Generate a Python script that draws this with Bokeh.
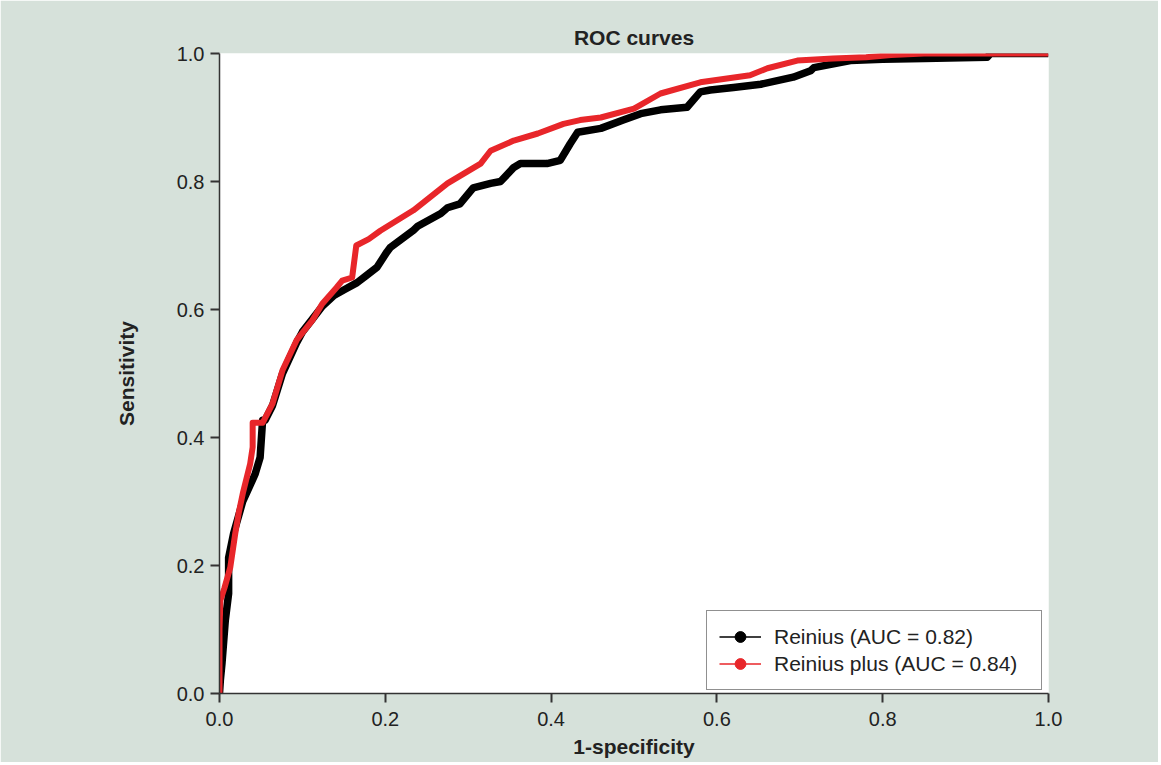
from bokeh.plotting import figure
from bokeh.models import ColumnDataSource, Legend, LegendItem, FixedTicker
from bokeh.embed import file_html
from bokeh.resources import INLINE

# Reinius (AUC = 0.82) -- black
reinius_fpr = [0.0, 0.001, 0.003, 0.007, 0.011, 0.011, 0.017, 0.028, 0.043, 0.049, 0.052,
               0.055, 0.064, 0.076, 0.093, 0.100, 0.112, 0.124, 0.138, 0.152, 0.166, 0.176,
               0.19, 0.202, 0.206, 0.234, 0.239, 0.267, 0.275, 0.29, 0.306, 0.327, 0.339,
               0.355, 0.363, 0.395, 0.411, 0.423, 0.432, 0.46, 0.487, 0.508, 0.532, 0.564,
               0.58, 0.592, 0.62, 0.653, 0.692, 0.713, 0.717, 0.761, 0.80, 0.85, 0.926, 0.93, 1.0]
reinius_tpr = [0.0, 0.02, 0.047, 0.114, 0.156, 0.212, 0.25, 0.30, 0.343, 0.369, 0.427,
               0.427, 0.45, 0.50, 0.548, 0.565, 0.585, 0.605, 0.622, 0.632, 0.642, 0.652,
               0.666, 0.69, 0.697, 0.724, 0.73, 0.75, 0.759, 0.765, 0.79, 0.797, 0.80,
               0.822, 0.828, 0.828, 0.833, 0.859, 0.877, 0.883, 0.896, 0.906, 0.912, 0.916,
               0.94, 0.943, 0.947, 0.952, 0.963, 0.973, 0.978, 0.989, 0.991, 0.992, 0.994, 1.0, 1.0]

# Reinius plus (AUC = 0.84) -- red
plus_fpr = [0.0, 0.0, 0.001, 0.006, 0.013, 0.019, 0.023, 0.028, 0.037, 0.04, 0.04, 0.052,
            0.064, 0.076, 0.093, 0.112, 0.124, 0.141, 0.148, 0.16, 0.165, 0.18, 0.194,
            0.234, 0.275, 0.315, 0.327, 0.355, 0.384, 0.415, 0.435, 0.46, 0.50, 0.532,
            0.58, 0.64, 0.661, 0.697, 0.74, 0.78, 0.81, 0.85, 1.0]
plus_tpr = [0.0, 0.10, 0.145, 0.165, 0.197, 0.25, 0.281, 0.312, 0.359, 0.385, 0.423, 0.423,
            0.453, 0.505, 0.552, 0.583, 0.609, 0.634, 0.645, 0.65, 0.70, 0.71, 0.723,
            0.755, 0.797, 0.828, 0.848, 0.864, 0.875, 0.89, 0.896, 0.90, 0.914, 0.9375,
            0.955, 0.966, 0.977, 0.989, 0.992, 0.994, 0.9975, 1.0, 1.0]

series_labels = ["Reinius (AUC = 0.82)", "Reinius plus (AUC = 0.84)"]
ticks = [0.0, 0.2, 0.4, 0.6, 0.8, 1.0]
tick_labels = ["0.0", "0.2", "0.4", "0.6", "0.8", "1.0"]

BG = "#d6e1da"
BLACK = "#000000"
RED = "#e8262a"
FONT = "Liberation Sans"

p = figure(width=1158, height=762, x_range=(0, 1), y_range=(0, 1),
           output_backend="svg", toolbar_location=None,
           min_border_left=219, min_border_right=110, min_border_top=53, min_border_bottom=69,
           border_fill_color=BG, background_fill_color="white", outline_line_color=None)

p.title.text = "ROC curves"
p.title.align = "center"
p.title.text_font = FONT
p.title.text_font_size = "21px"
p.title.text_font_style = "bold"
p.title.text_color = "#222222"

p.grid.visible = False

for ax, lab, standoff, lstand in ((p.xaxis[0], "1-specificity", 6, 9),
                                  (p.yaxis[0], "Sensitivity", 36, 6)):
    ax.ticker = FixedTicker(ticks=ticks)
    ax.major_label_overrides = {t: l for t, l in zip(ticks, tick_labels)}
    ax.axis_label = lab
    ax.axis_label_text_font = FONT
    ax.axis_label_text_font_size = "21px"
    ax.axis_label_text_font_style = "bold"
    ax.axis_label_text_color = "#222222"
    ax.axis_label_standoff = standoff
    ax.major_label_text_font = FONT
    ax.major_label_text_font_size = "20px"
    ax.major_label_text_color = "#222222"
    ax.axis_line_color = "#333333"
    ax.axis_line_width = 1.5
    ax.major_tick_line_color = "#333333"
    ax.major_tick_line_width = 2
    ax.major_tick_out = 9
    ax.major_tick_in = 0
    ax.minor_tick_line_color = None
    ax.major_label_standoff = lstand

src_r = ColumnDataSource(dict(x=reinius_fpr, y=reinius_tpr))
src_p = ColumnDataSource(dict(x=plus_fpr, y=plus_tpr))
p.line("x", "y", source=src_r, line_color=BLACK, line_width=7.5, line_join="round")
p.line("x", "y", source=src_p, line_color=RED, line_width=6, line_join="round")

# legend-only glyphs (thin line + dot), placed outside the visible range
off = dict(x=[-5, -4], y=[-5, -4])
l1 = p.line(x=off["x"], y=off["y"], line_color=BLACK, line_width=1.5)
c1 = p.scatter(x=off["x"], y=off["y"], marker="circle", size=9, fill_color=BLACK, line_color=BLACK)
l2 = p.line(x=off["x"], y=off["y"], line_color=RED, line_width=1.5)
c2 = p.scatter(x=off["x"], y=off["y"], marker="circle", size=9, fill_color=RED, line_color=RED)

legend = Legend(items=[LegendItem(label=series_labels[0], renderers=[l1, c1]),
                       LegendItem(label=series_labels[1], renderers=[l2, c2])],
                location=(487, 3), padding=12, spacing=0, margin=0,
                glyph_width=42, glyph_height=27, label_height=27, label_width=255,
                label_standoff=13,
                label_text_font=FONT, label_text_font_size="21px", label_text_color="#222222",
                border_line_color="#222222", border_line_width=1.2,
                background_fill_color="white", background_fill_alpha=1.0)
p.add_layout(legend, "center")

open("out.html", "w").write(file_html(p, INLINE))
